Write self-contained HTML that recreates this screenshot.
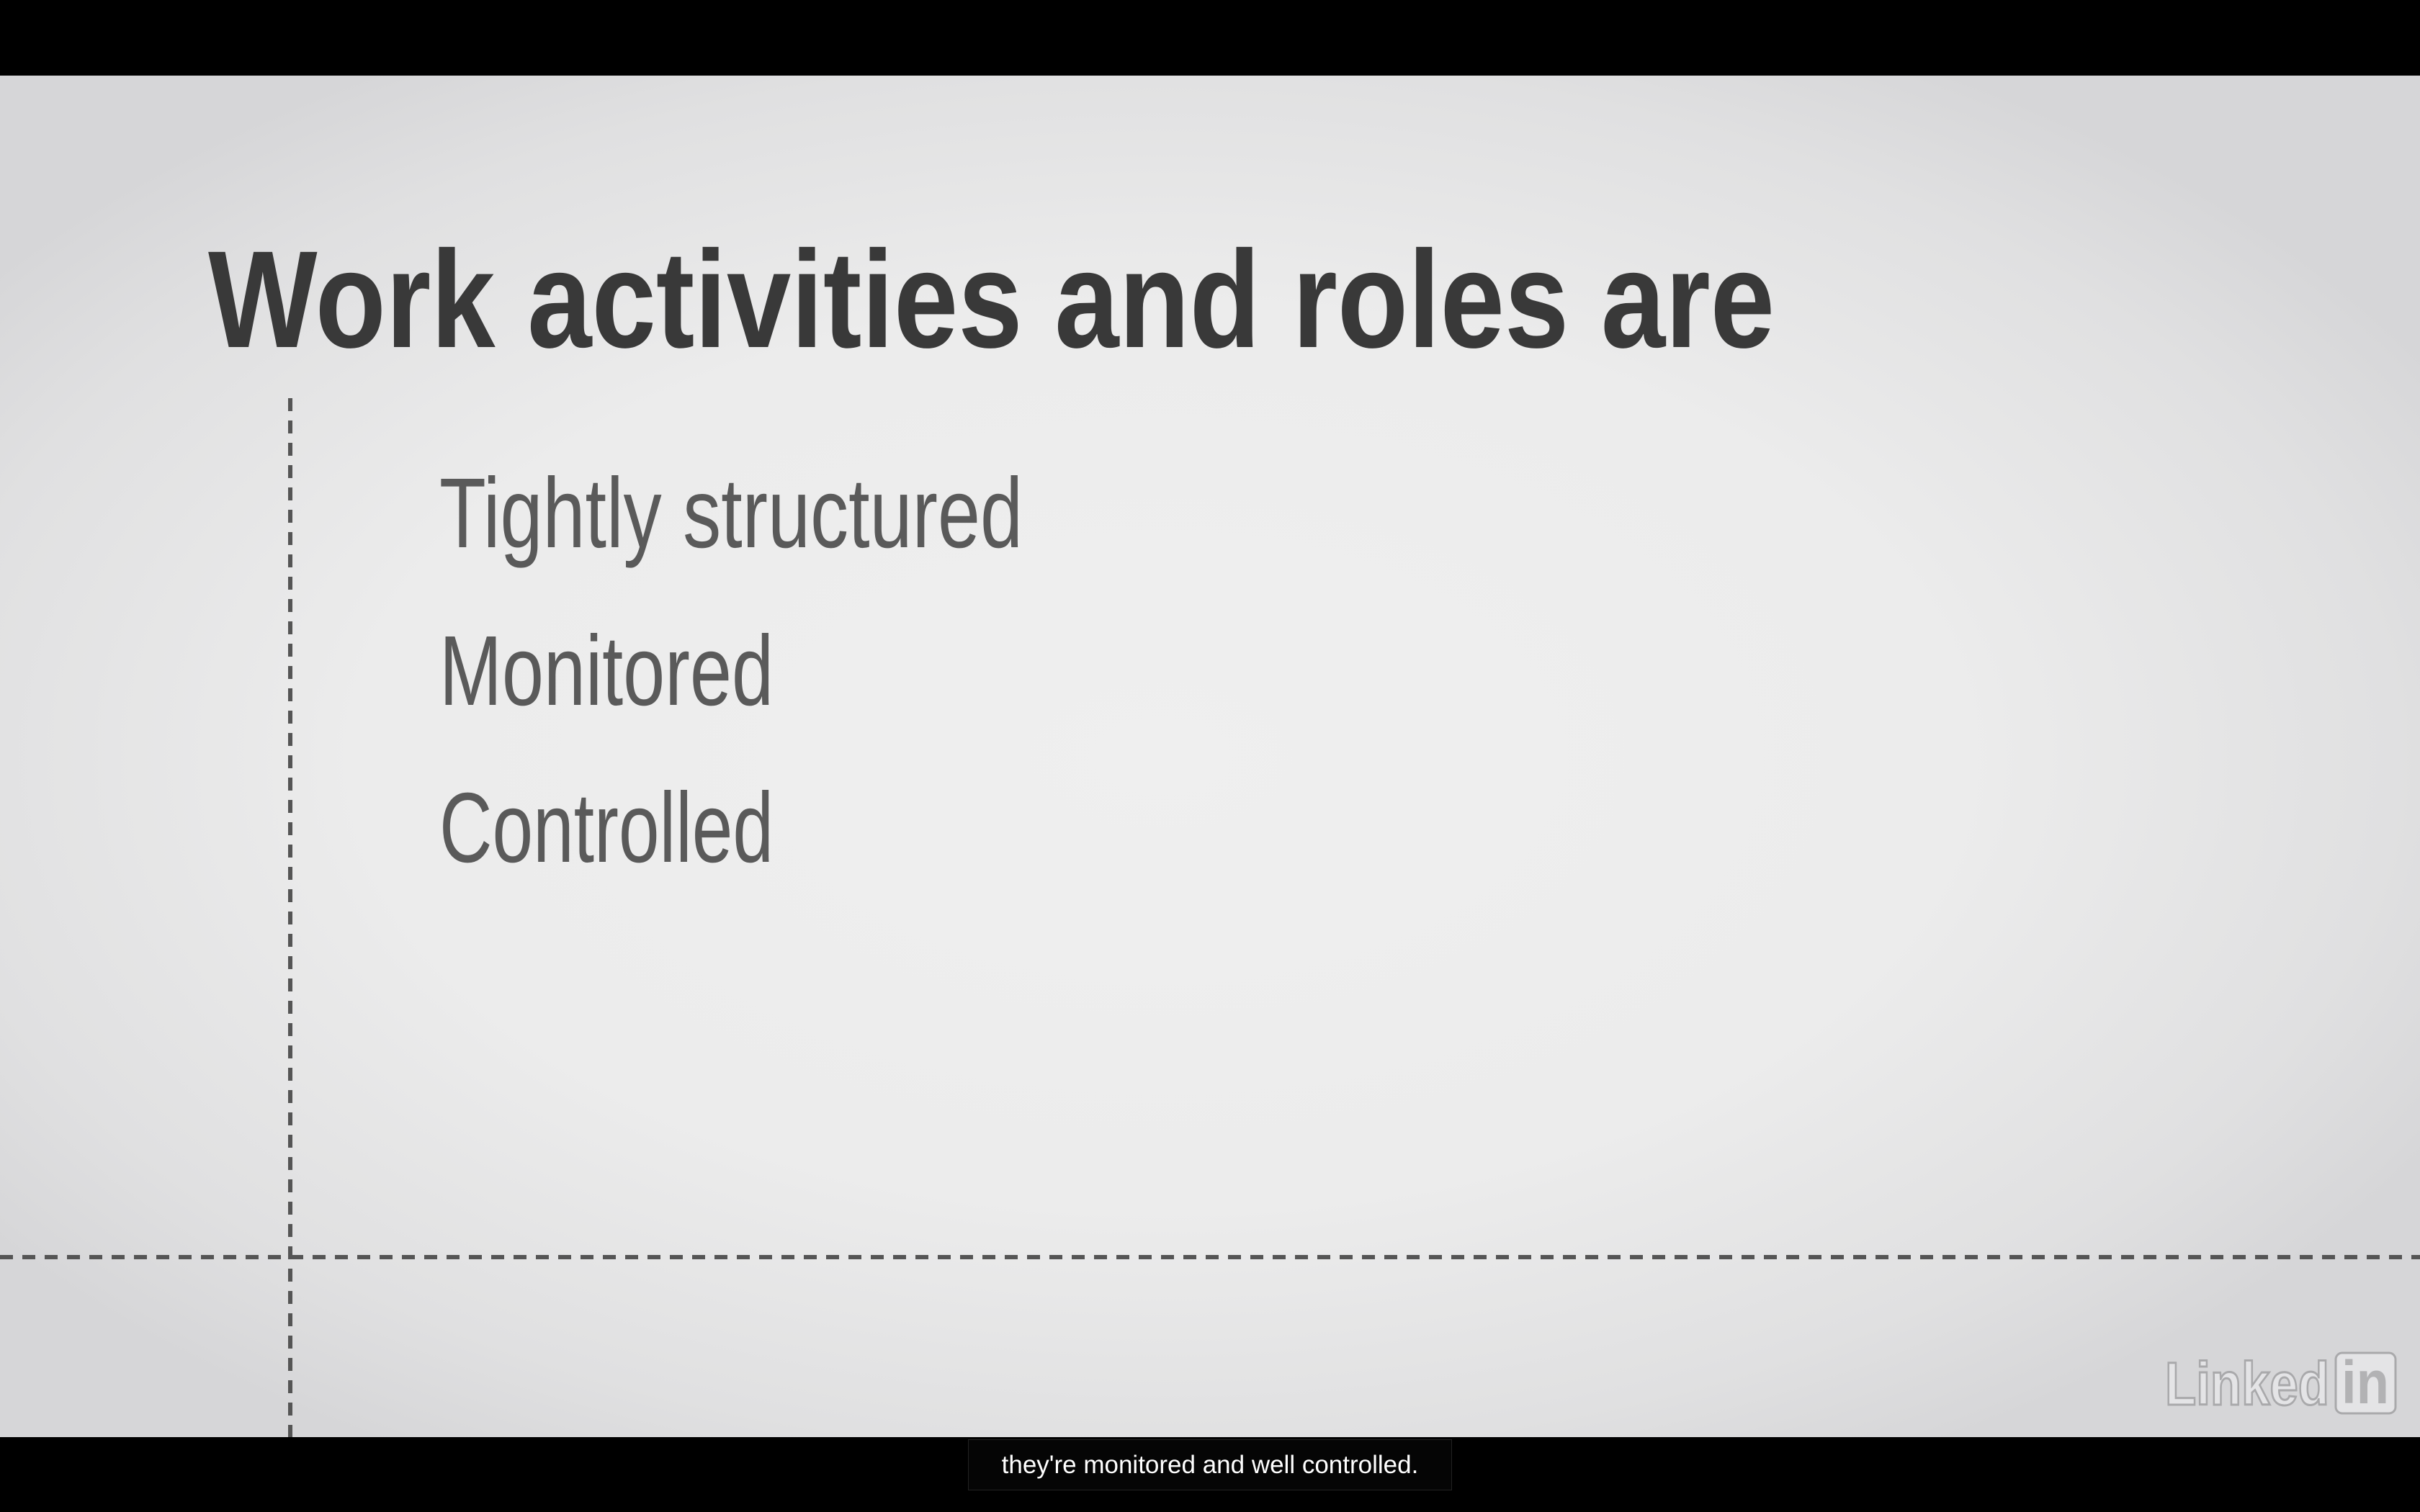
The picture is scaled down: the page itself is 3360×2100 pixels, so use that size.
<!DOCTYPE html>
<html><head><meta charset="utf-8"><style>
html,body{margin:0;padding:0}
body{width:3360px;height:2100px;position:relative;overflow:hidden;background:#000;font-family:"Liberation Sans",sans-serif}
#slide{position:absolute;left:0;top:105px;width:3360px;height:1891px;background:radial-gradient(ellipse 60% 60% at 48% 50%,#efefef 0%,#ececec 55%,#e0e0e1 85%,#d6d6d8 100%)}
svg{position:absolute;left:0;top:0}
#cap{position:absolute;left:1344px;top:1999px;width:670px;height:69px;background:#050505;border:1px solid #222;color:#fff;font-size:35px;line-height:69px;text-align:center}
</style></head><body>
<div id="slide"></div>
<svg width="3360" height="2100" viewBox="0 0 3360 2100">
<text x="289" y="482" font-family="Liberation Sans" font-weight="bold" font-size="192" fill="#393939" textLength="2175" lengthAdjust="spacingAndGlyphs">Work activities and roles are</text>
<text x="610" y="760" font-family="Liberation Sans" font-size="138" fill="#5a5a5a" textLength="810" lengthAdjust="spacingAndGlyphs">Tightly structured</text>
<text x="610" y="979" font-family="Liberation Sans" font-size="138" fill="#5a5a5a" textLength="464" lengthAdjust="spacingAndGlyphs">Monitored</text>
<text x="610" y="1197" font-family="Liberation Sans" font-size="138" fill="#5a5a5a" textLength="464" lengthAdjust="spacingAndGlyphs">Controlled</text>
<line x1="403" y1="553" x2="403" y2="1996" stroke="#555" stroke-width="6" stroke-dasharray="18 13"/>
<line x1="0" y1="1746" x2="3360" y2="1746" stroke="#555" stroke-width="6" stroke-dasharray="18 13"/>
<text x="3006" y="1951" font-family="Liberation Sans" font-weight="bold" font-size="84" fill="#e4e4e6" stroke="#a9a9ab" stroke-width="3" textLength="228" lengthAdjust="spacingAndGlyphs">Linked</text>
<rect x="3243" y="1879" width="83" height="84" rx="9" fill="#e4e4e6" stroke="#a9a9ab" stroke-width="3"/>
<text x="3251" y="1949" font-family="Liberation Sans" font-weight="bold" font-size="84" fill="#b2b2b4" textLength="66" lengthAdjust="spacingAndGlyphs">in</text>
</svg>
<div id="cap">they're monitored and well controlled.</div>
</body></html>
